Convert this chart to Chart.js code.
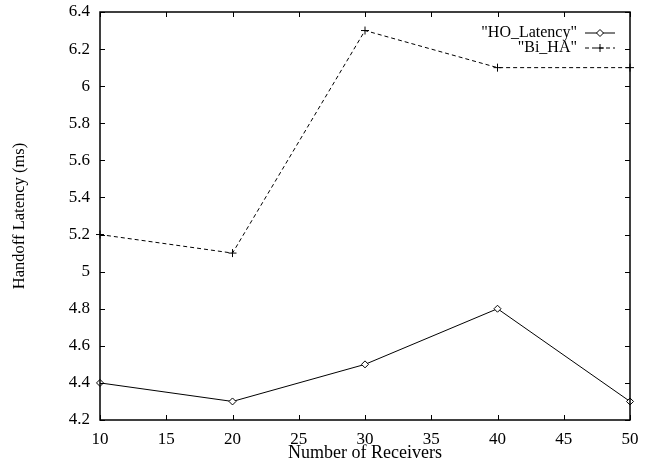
<!DOCTYPE html>
<html>
<head>
<meta charset="utf-8">
<script src="https://cdn.jsdelivr.net/npm/chart.js@4"></script>
<style>
  html, body { margin: 0; padding: 0; background: #fff; }
  #wrap { width: 649px; height: 464px; position: relative; }
</style>
</head>
<body>
<div id="wrap"><canvas id="chart"></canvas></div>
<script>
// Data
const receivers = [10, 20, 30, 40, 50];
const hoLatency = [4.4, 4.3, 4.5, 4.8, 4.3];
const biHA = [5.2, 5.1, 6.3, 6.1, 6.1];

const xTicks = [10, 15, 20, 25, 30, 35, 40, 45, 50];
const yTicks = [4.2, 4.4, 4.6, 4.8, 5, 5.2, 5.4, 5.6, 5.8, 6, 6.2, 6.4];

const FONT = 'Liberation Serif';

// Gnuplot-like frame, inward ticks and key
const gnuplotFrame = {
    id: 'gnuplotFrame',
    afterDraw(chart) {
        const { ctx, chartArea: a, scales } = chart;
        ctx.save();
        ctx.strokeStyle = '#000';
        ctx.lineWidth = 1.5;
        ctx.strokeRect(a.left, a.top, a.right - a.left, a.bottom - a.top);

        ctx.lineWidth = 1;
        ctx.beginPath();
        xTicks.forEach(v => {
            const px = Math.round(scales.x.getPixelForValue(v)) + 0.5;
            ctx.moveTo(px, a.bottom); ctx.lineTo(px, a.bottom - 5);
            ctx.moveTo(px, a.top); ctx.lineTo(px, a.top + 5);
        });
        yTicks.forEach(v => {
            const py = Math.round(scales.y.getPixelForValue(v)) + 0.5;
            ctx.moveTo(a.left, py); ctx.lineTo(a.left + 5, py);
            ctx.moveTo(a.right, py); ctx.lineTo(a.right - 5, py);
        });
        ctx.stroke();

        // key: text, then a sample line with its marker
        ctx.font = '16px "' + FONT + '"';
        ctx.textAlign = 'right';
        ctx.textBaseline = 'middle';
        chart.data.datasets.forEach((ds, i) => {
            const y = a.top + 21 + i * 15;
            ctx.fillStyle = '#000';
            ctx.fillText('"' + ds.label + '"', a.right - 53, y);
            ctx.beginPath();
            ctx.setLineDash(ds.borderDash || []);
            ctx.moveTo(a.right - 45, y);
            ctx.lineTo(a.right - 15, y);
            ctx.stroke();
            ctx.setLineDash([]);
            ctx.fillStyle = '#fff';
            Chart.helpers.drawPoint(ctx, {
                pointStyle: ds.pointStyle,
                radius: ds.pointRadius,
                borderWidth: 1
            }, a.right - 30, y);
        });
        ctx.restore();
    }
};

new Chart(document.getElementById('chart'), {
    type: 'line',
    data: {
        datasets: [
            {
                label: 'HO_Latency',
                data: receivers.map((x, i) => ({ x, y: hoLatency[i] })),
                borderColor: '#000',
                backgroundColor: '#fff',
                borderWidth: 1,
                pointStyle: 'rectRot',
                pointRadius: 3.5,
                pointBorderWidth: 1,
                pointBackgroundColor: '#fff',
                pointBorderColor: '#000',
                tension: 0,
                clip: 8
            },
            {
                label: 'Bi_HA',
                data: receivers.map((x, i) => ({ x, y: biHA[i] })),
                borderColor: '#000',
                backgroundColor: '#000',
                borderWidth: 1,
                borderDash: [4, 3],
                pointStyle: 'cross',
                pointRadius: 4,
                pointBorderWidth: 1,
                pointBorderColor: '#000',
                tension: 0,
                clip: 8
            }
        ]
    },
    options: {
        responsive: true,
        maintainAspectRatio: false,
        animation: false,
        layout: { padding: { top: 12, right: 19, left: 0, bottom: 0 } },
        plugins: {
            legend: { display: false },
            tooltip: { enabled: false }
        },
        scales: {
            x: {
                type: 'linear',
                min: 10,
                max: 50,
                afterBuildTicks: s => { s.ticks = xTicks.map(value => ({ value })); },
                afterFit: s => { s.height = 44; s.paddingLeft = 0; s.paddingRight = 0; },
                grid: { display: false, drawTicks: false },
                border: { display: false },
                ticks: {
                    color: '#000',
                    font: { family: FONT, size: 17 },
                    padding: 9,
                    maxRotation: 0,
                    autoSkip: false
                },
                title: {
                    display: true,
                    text: 'Number of Receivers',
                    color: '#000',
                    font: { family: FONT, size: 18 },
                    padding: { top: 0, bottom: 0 }
                }
            },
            y: {
                min: 4.2,
                max: 6.4,
                afterBuildTicks: s => { s.ticks = yTicks.map(value => ({ value })); },
                afterFit: s => { s.width = 100; s.paddingTop = 0; s.paddingBottom = 0; },
                grid: { display: false, drawTicks: false },
                border: { display: false },
                ticks: {
                    color: '#000',
                    font: { family: FONT, size: 17 },
                    padding: 10,
                    autoSkip: false,
                    callback: v => String(Number(v.toFixed(1)))
                },
                title: {
                    display: true,
                    text: 'Handoff Latency (ms)',
                    color: '#000',
                    font: { family: FONT, size: 16.5 },
                    padding: { top: 10, bottom: 0 }
                }
            }
        }
    },
    plugins: [gnuplotFrame]
});
</script>
</body>
</html>
